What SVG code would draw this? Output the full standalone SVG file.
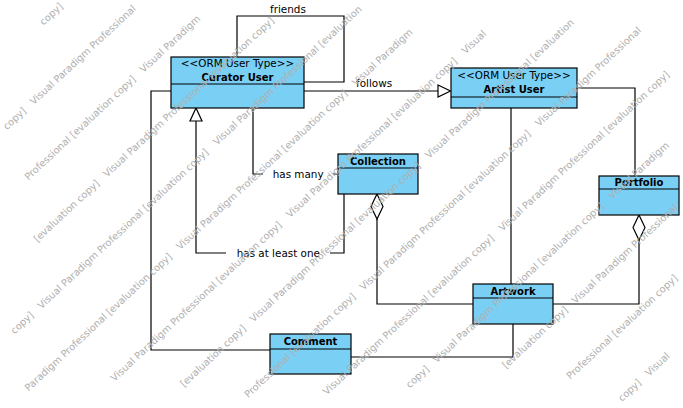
<svg xmlns="http://www.w3.org/2000/svg" width="683" height="408" viewBox="0 0 683 408">
<style>
.box{fill:#7acff5;stroke:#000;stroke-width:1.2}
.div{stroke:#000;stroke-width:1.2}
.conn{fill:none;stroke:#000;stroke-width:1.2}
.head{fill:#fff;stroke:#000;stroke-width:1.2}
.st{font-family:"DejaVu Sans",sans-serif;font-size:10.4px;text-anchor:middle;fill:#000}
.nm{font-family:"DejaVu Sans",sans-serif;font-size:10px;font-weight:bold;text-anchor:middle;fill:#000}
.lbl{font-family:"DejaVu Sans",sans-serif;font-size:10.4px;fill:#000}
.wm{font-family:"DejaVu Sans",sans-serif;font-size:9.8px;fill:#b0b0b0}
</style>
<rect width="683" height="408" fill="#fff"/>
<g id="connectors">
  <path class="conn" d="M237,57 V16 H344 V82 H304"/>
  <path class="conn" d="M304,91 H438"/>
  <polygon class="head" points="438,85 450.5,91 438,97"/>
  <path class="conn" d="M253,108 V174 H263 M333,174 H338"/>
  <path class="conn" d="M344,194 V253 H330 M226,253 H196 V121"/>
  <polygon class="head" points="196,108 202,121 190,121"/>
  <path class="conn" d="M171,91 H151 V350 H270"/>
  <path class="conn" d="M577,88 H635 V176"/>
  <path class="conn" d="M511,108 V284"/>
  <polygon class="head" points="377,194 383,206.5 377,219 371,206.5"/>
  <path class="conn" d="M377,219 V304 H473"/>
  <polygon class="head" points="639,215 645,227.5 639,240 633,227.5"/>
  <path class="conn" d="M639,240 V304 H553"/>
  <path class="conn" d="M513,324 V357 H351"/>
  <text class="lbl" x="270" y="12.5">friends</text>
  <text class="lbl" x="356" y="87.3">follows</text>
  <text class="lbl" x="272.7" y="177.5">has many</text>
  <text class="lbl" x="236.7" y="256.5">has at least one</text>
</g>
<g id="curator-user">
  <rect class="box" x="171" y="57" width="133" height="51"/>
  <line class="div" x1="171" y1="84" x2="304" y2="84"/>
  <text class="st" x="237.5" y="66.5">&lt;&lt;ORM User Type&gt;&gt;</text>
  <text class="nm" x="237.5" y="80.5">Curator User</text>
</g>
<g id="artist-user">
  <rect class="box" x="451" y="68" width="126" height="40"/>
  <line class="div" x1="451" y1="97" x2="577" y2="97"/>
  <text class="st" x="514" y="78.7">&lt;&lt;ORM User Type&gt;&gt;</text>
  <text class="nm" x="514" y="92.7">Artist User</text>
</g>
<g id="collection">
  <rect class="box" x="338" y="154" width="80" height="40"/>
  <line class="div" x1="338" y1="168" x2="418" y2="168"/>
  <text class="nm" x="378" y="165">Collection</text>
</g>
<g id="portfolio">
  <rect class="box" x="599" y="176" width="80" height="39"/>
  <line class="div" x1="599" y1="189" x2="679" y2="189"/>
  <text class="nm" x="639" y="186">Portfolio</text>
</g>
<g id="artwork">
  <rect class="box" x="473" y="284" width="80" height="40"/>
  <line class="div" x1="473" y1="298" x2="553" y2="298"/>
  <text class="nm" x="513" y="295">Artwork</text>
</g>
<g id="comment">
  <rect class="box" x="270" y="334" width="81" height="40"/>
  <line class="div" x1="270" y1="349" x2="351" y2="349"/>
  <text class="nm" x="310.5" y="345">Comment</text>
</g>
<g id="watermark">
  <text class="wm" x="43.6" y="25.8" transform="rotate(-43 43.6 25.8)">copy]</text>
  <text class="wm" x="6.9" y="130.3" transform="rotate(-43 6.9 130.3)">copy]</text>
  <text class="wm" x="33.8" y="105.3" transform="rotate(-43 33.8 105.3)">Visual Paradigm Professional</text>
  <text class="wm" x="28.4" y="180.7" transform="rotate(-43 28.4 180.7)">Professional [evaluation copy]</text>
  <text class="wm" x="143.6" y="73.2" transform="rotate(-43 143.6 73.2)">Visual Paradigm</text>
  <text class="wm" x="37.4" y="242.7" transform="rotate(-43 37.4 242.7)">[evaluation copy]</text>
  <text class="wm" x="107" y="177.8" transform="rotate(-43 107 177.8)">Visual Paradigm Professional [evaluation copy]</text>
  <text class="wm" x="14.5" y="334.5" transform="rotate(-43 14.5 334.5)">copy]</text>
  <text class="wm" x="41.4" y="309.4" transform="rotate(-43 41.4 309.4)">Visual Paradigm Professional [evaluation copy]</text>
  <text class="wm" x="216.9" y="145.7" transform="rotate(-43 216.9 145.7)">Visual Paradigm Professional [evaluation</text>
  <text class="wm" x="28.6" y="391.7" transform="rotate(-43 28.6 391.7)">Paradigm Professional [evaluation copy]</text>
  <text class="wm" x="180.3" y="250.3" transform="rotate(-43 180.3 250.3)">Visual Paradigm Professional [evaluation copy]</text>
  <text class="wm" x="355.9" y="86.6" transform="rotate(-43 355.9 86.6)">Visual Paradigm</text>
  <text class="wm" x="114.6" y="382" transform="rotate(-43 114.6 382)">Visual Paradigm Professional [evaluation copy]</text>
  <text class="wm" x="290.1" y="218.3" transform="rotate(-43 290.1 218.3)">Visual Paradigm Professional [evaluation copy]</text>
  <text class="wm" x="465.6" y="54.6" transform="rotate(-43 465.6 54.6)">Visual</text>
  <text class="wm" x="183.9" y="387.6" transform="rotate(-43 183.9 387.6)">[evaluation copy]</text>
  <text class="wm" x="253.5" y="322.8" transform="rotate(-43 253.5 322.8)">Visual Paradigm Professional [evaluation copy]</text>
  <text class="wm" x="429.1" y="159.1" transform="rotate(-43 429.1 159.1)">Visual Paradigm Professional [evaluation</text>
  <text class="wm" x="248.2" y="398.2" transform="rotate(-43 248.2 398.2)">Professional [evaluation copy]</text>
  <text class="wm" x="363.5" y="290.8" transform="rotate(-43 363.5 290.8)">Visual Paradigm Professional [evaluation copy]</text>
  <text class="wm" x="539" y="127.1" transform="rotate(-43 539 127.1)">Visual Paradigm Professional</text>
  <text class="wm" x="326.8" y="395.4" transform="rotate(-43 326.8 395.4)">Visual Paradigm Professional [evaluation copy]</text>
  <text class="wm" x="502.4" y="231.7" transform="rotate(-43 502.4 231.7)">Visual Paradigm Professional [evaluation copy]</text>
  <text class="wm" x="409.8" y="388.4" transform="rotate(-43 409.8 388.4)">copy]</text>
  <text class="wm" x="436.7" y="363.4" transform="rotate(-43 436.7 363.4)">Visual Paradigm Professional [evaluation copy]</text>
  <text class="wm" x="612.2" y="199.7" transform="rotate(-43 612.2 199.7)">Visual Paradigm</text>
  <text class="wm" x="505.9" y="369.1" transform="rotate(-43 505.9 369.1)">[evaluation copy]</text>
  <text class="wm" x="575.6" y="304.2" transform="rotate(-43 575.6 304.2)">Visual Paradigm Professional</text>
  <text class="wm" x="570.3" y="379.7" transform="rotate(-43 570.3 379.7)">Professional [evaluation copy]</text>
  <text class="wm" x="622" y="401.9" transform="rotate(-43 622 401.9)">copy]</text>
  <text class="wm" x="648.9" y="376.8" transform="rotate(-43 648.9 376.8)">Visual</text>
</g>
</svg>
